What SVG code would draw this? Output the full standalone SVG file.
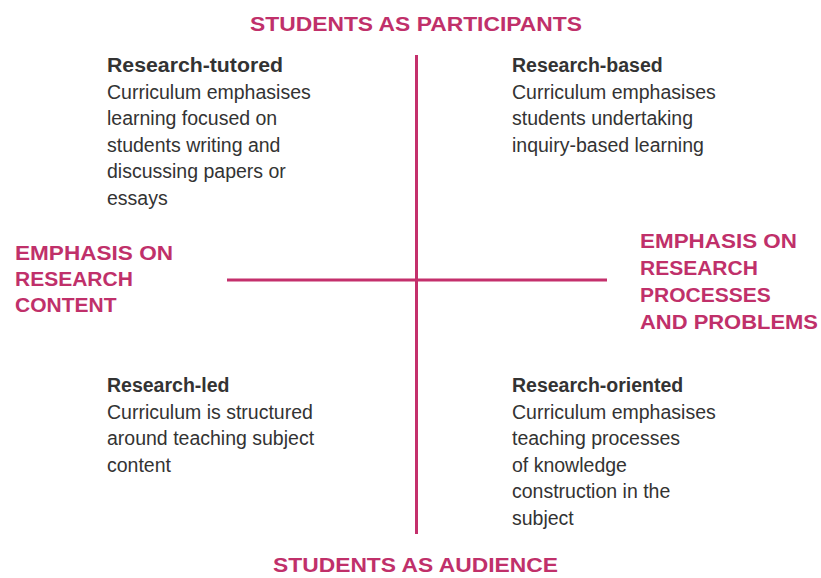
<svg xmlns="http://www.w3.org/2000/svg" width="821" height="578" viewBox="0 0 821 578">
<style>
.ax{font-family:"Liberation Sans",Arial,sans-serif;font-weight:bold;fill:#c0306a;font-size:21px}
.t{font-family:"Liberation Sans",Arial,sans-serif;font-weight:bold;fill:#333;font-size:19.5px}
.b{font-family:"Liberation Sans",Arial,sans-serif;fill:#333;font-size:19.5px}
.ln{stroke:#c4306c;stroke-width:3;fill:none}
</style>
<rect width="821" height="578" fill="#fff"/>
<g id="connectors">
<line class="ln" x1="416.5" y1="55" x2="416.5" y2="534"/>
<line class="ln" x1="227" y1="280" x2="607" y2="280"/>
</g>
<g id="top-label"><text class="ax" x="250" y="31" textLength="332" lengthAdjust="spacingAndGlyphs">STUDENTS AS PARTICIPANTS</text></g>
<g id="bottom-label"><text class="ax" x="273" y="572" textLength="285" lengthAdjust="spacingAndGlyphs">STUDENTS AS AUDIENCE</text></g>
<g id="left-label">
<text class="ax" x="15" y="260" textLength="158" lengthAdjust="spacingAndGlyphs">EMPHASIS ON</text>
<text class="ax" x="15" y="286">RESEARCH</text>
<text class="ax" x="15" y="312">CONTENT</text>
</g>
<g id="right-label">
<text class="ax" x="640" y="248" textLength="157" lengthAdjust="spacingAndGlyphs">EMPHASIS ON</text>
<text class="ax" x="640" y="275">RESEARCH</text>
<text class="ax" x="640" y="302">PROCESSES</text>
<text class="ax" x="640" y="329" textLength="178" lengthAdjust="spacingAndGlyphs">AND PROBLEMS</text>
</g>
<g id="research-tutored">
<text class="t" x="107" y="72" textLength="176" lengthAdjust="spacingAndGlyphs">Research-tutored</text>
<text class="b" x="107" y="98.5">Curriculum emphasises</text>
<text class="b" x="107" y="125">learning focused on</text>
<text class="b" x="107" y="151.5">students writing and</text>
<text class="b" x="107" y="178">discussing papers or</text>
<text class="b" x="107" y="204.5">essays</text>
</g>
<g id="research-based">
<text class="t" x="512" y="72">Research-based</text>
<text class="b" x="512" y="98.5">Curriculum emphasises</text>
<text class="b" x="512" y="125">students undertaking</text>
<text class="b" x="512" y="151.5">inquiry-based learning</text>
</g>
<g id="research-led">
<text class="t" x="107" y="392">Research-led</text>
<text class="b" x="107" y="418.5">Curriculum is structured</text>
<text class="b" x="107" y="445">around teaching subject</text>
<text class="b" x="107" y="471.5">content</text>
</g>
<g id="research-oriented">
<text class="t" x="512" y="392">Research-oriented</text>
<text class="b" x="512" y="418.5">Curriculum emphasises</text>
<text class="b" x="512" y="445">teaching processes</text>
<text class="b" x="512" y="471.5">of knowledge</text>
<text class="b" x="512" y="498">construction in the</text>
<text class="b" x="512" y="524.5">subject</text>
</g>
</svg>
